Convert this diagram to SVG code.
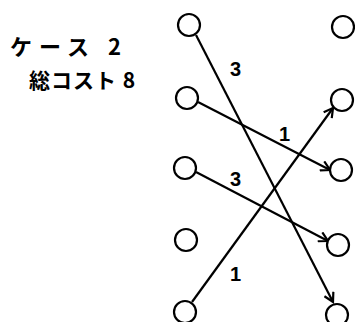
<svg xmlns="http://www.w3.org/2000/svg" width="355" height="322" viewBox="0 0 355 322">
<style>
.n{fill:#fff;stroke:#000;stroke-width:2.2}
.e{fill:none;stroke:#000;stroke-width:2.2;marker-end:url(#ah)}
.t{font-family:"Noto Sans CJK JP","Noto Sans",sans-serif;font-weight:bold;fill:#000}
.l{font-family:"Liberation Sans",sans-serif;font-weight:bold;font-size:20px;fill:#000}
</style>
<defs>
<marker id="ah" markerWidth="12" markerHeight="12" refX="10" refY="6" orient="auto" markerUnits="userSpaceOnUse">
<path d="M1,1 L10,6 L1,11" fill="none" stroke="#000" stroke-width="2.2"/>
</marker>
</defs>
<g id="title">
<text class="t" x="10" y="55" font-size="22" letter-spacing="7">ケース 2</text>
<text class="t" x="29" y="88" font-size="21" letter-spacing="1">総コスト 8</text>
</g>
<g id="connectors">
<line class="e" x1="196" y1="35" x2="333" y2="302"/>
<line class="e" x1="198" y1="102" x2="330" y2="170"/>
<line class="e" x1="196" y1="172" x2="328" y2="241"/>
<line class="e" x1="192" y1="302" x2="333" y2="108"/>
<text class="l" x="230" y="76">3</text>
<text class="l" x="279" y="141">1</text>
<text class="l" x="230" y="186">3</text>
<text class="l" x="230" y="281">1</text>
</g>
<g id="L1"><circle class="n" cx="189" cy="25" r="11"/></g>
<g id="L2"><circle class="n" cx="187" cy="98" r="11"/></g>
<g id="L3"><circle class="n" cx="185" cy="168" r="11"/></g>
<g id="L4"><circle class="n" cx="186" cy="240" r="11"/></g>
<g id="L5"><circle class="n" cx="185" cy="312" r="11"/></g>
<g id="R1"><circle class="n" cx="343" cy="27" r="11"/></g>
<g id="R2"><circle class="n" cx="342" cy="100" r="11"/></g>
<g id="R3"><circle class="n" cx="341" cy="170" r="11"/></g>
<g id="R4"><circle class="n" cx="338" cy="245" r="11"/></g>
<g id="R5"><circle class="n" cx="337" cy="315" r="11"/></g>
</svg>
